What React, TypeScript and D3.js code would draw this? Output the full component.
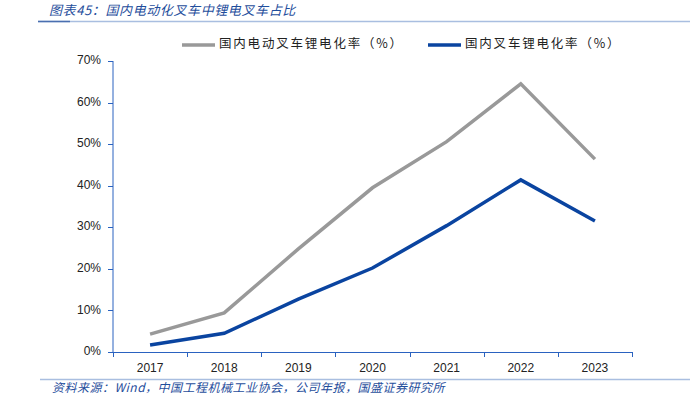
import React from "react";
import * as d3 from "d3";

const years = ["2017", "2018", "2019", "2020", "2021", "2022", "2023"];
const electricLiRate = [4.3, 9.4, 24.8, 39.5, 50.6, 64.5, 46.4];
const totalLiRate = [1.7, 4.5, 12.7, 20.2, 30.4, 41.4, 31.5];
const yTicks = [0, 10, 20, 30, 40, 50, 60, 70];
const seriesNames = ["国内电动叉车锂电化率（%）", "国内叉车锂电化率（%）"];
const titleText = "图表45：国内电动化叉车中锂电叉车占比";
const sourceText = "资料来源：Wind，中国工程机械工业协会，公司年报，国盛证券研究所";

const W = 690;
const H = 408;
const plot = { left: 113, right: 632, top: 61, bottom: 352 };
const axisColor = "#2A62C0";
const grayColor = "#999999";
const blueColor = "#0A44A0";
const cjk = "'Noto Sans CJK SC', sans-serif";
const latin = "'Liberation Sans', Arial, sans-serif";

export default function App() {
  const x = d3.scaleBand<string>().domain(years).range([plot.left, plot.right]).padding(0);
  const y = d3.scaleLinear().domain([0, 70]).range([plot.bottom, plot.top]);
  const cx = (d: string) => (x(d) ?? 0) + x.bandwidth() / 2;
  const line = d3
    .line<number>()
    .x((_, i) => cx(years[i]))
    .y((v) => y(v));

  const boundaries = years.map((d) => x(d) ?? 0).concat([plot.right]);

  return (
    <svg width={W} height={H} style={{ position: "absolute", left: 0, top: 0, background: "#fff" }}>
      <rect x={0} y={0} width={W} height={H} fill="#fff" />
      {/* title */}
      <text x={49} y={11} fontFamily={cjk} fontSize={13} fontStyle="italic" letterSpacing={0.6} fill="#1F4E9C" dominantBaseline="middle">
        {titleText}
      </text>
      <line x1={38} x2={W} y1={21.5} y2={21.5} stroke="#A9BEE0" strokeWidth={1.5} />
      <line x1={38} x2={70} y1={21.5} y2={21.5} stroke="#4A6FB0" strokeWidth={1.5} />

      {/* legend */}
      <line x1={182} x2={215} y1={45} y2={45} stroke={grayColor} strokeWidth={3.5} />
      <text x={219} y={45} fontFamily={cjk} fontSize={12.5} letterSpacing={1.8} fill="#222" dominantBaseline="middle">
        {seriesNames[0]}
      </text>
      <line x1={428} x2={461} y1={45} y2={45} stroke={blueColor} strokeWidth={3.5} />
      <text x={465} y={45} fontFamily={cjk} fontSize={12.5} letterSpacing={1.8} fill="#222" dominantBaseline="middle">
        {seriesNames[1]}
      </text>

      {/* y axis */}
      <line x1={plot.left} x2={plot.left} y1={plot.top} y2={plot.bottom} stroke={axisColor} strokeWidth={1} />
      {yTicks.map((t) => (
        <g key={t}>
          <line x1={plot.left - 5} x2={plot.left} y1={Math.round(y(t)) + 0.5} y2={Math.round(y(t)) + 0.5} stroke={axisColor} />
          <text x={101} y={y(t)} textAnchor="end" dominantBaseline="middle" fontFamily={latin} fontSize={12} fill="#222">
            {t}%
          </text>
        </g>
      ))}

      {/* x axis */}
      <line x1={plot.left} x2={plot.right} y1={plot.bottom + 0.5} y2={plot.bottom + 0.5} stroke={axisColor} strokeWidth={1.2} />
      {boundaries.map((b, i) => (
        <line key={i} x1={Math.round(b) + 0.5} x2={Math.round(b) + 0.5} y1={plot.bottom} y2={plot.bottom + 5} stroke={axisColor} />
      ))}
      {years.map((d) => (
        <text key={d} x={cx(d)} y={368.5} textAnchor="middle" dominantBaseline="middle" fontFamily={latin} fontSize={12} fill="#222">
          {d}
        </text>
      ))}

      {/* series */}
      <path d={line(electricLiRate) ?? ""} fill="none" stroke={grayColor} strokeWidth={3.5} strokeLinejoin="miter" />
      <path d={line(totalLiRate) ?? ""} fill="none" stroke={blueColor} strokeWidth={3.5} strokeLinejoin="miter" />

      {/* source */}
      <line x1={40} x2={W} y1={379.5} y2={379.5} stroke="#A9BEE0" strokeWidth={1.5} />
      <text x={52} y={389} fontFamily={cjk} fontSize={12} fontStyle="italic" letterSpacing={0.5} fill="#1F4E9C" dominantBaseline="middle">
        {sourceText}
      </text>
    </svg>
  );
}
